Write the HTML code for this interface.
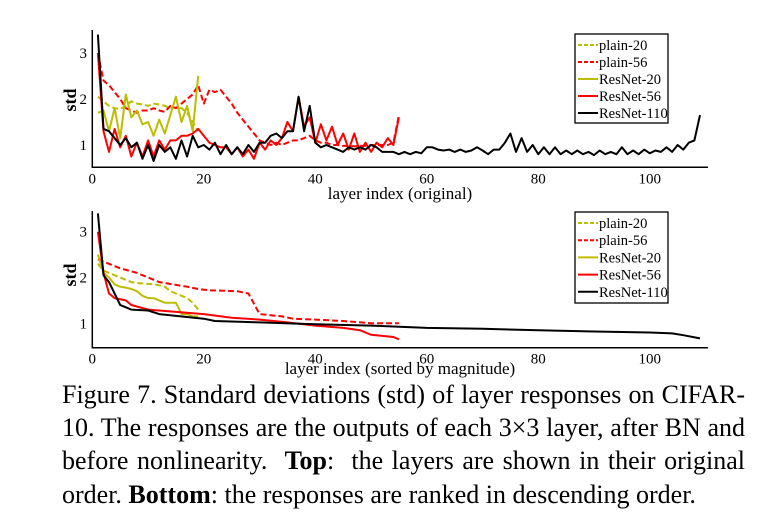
<!DOCTYPE html>
<html><head><meta charset="utf-8"><style>
body{margin:0;background:#fff;width:771px;height:531px;overflow:hidden;position:relative;font-family:"Liberation Serif",serif}
svg{position:absolute;left:0;top:0}
.cap{position:absolute;left:62px;width:683px;font-size:26px;line-height:33px;color:#000;text-align:justify;text-align-last:justify;white-space:nowrap}
</style></head><body>
<svg id="chart" width="771" height="531"></svg>
<div class="cap" style="top:378px">Figure 7. Standard deviations (std) of layer responses on CIFAR-</div>
<div class="cap" style="top:411px">10. The responses are the outputs of each 3×3 layer, after BN and</div>
<div class="cap" style="top:444px">before nonlinearity. &nbsp;<b>Top</b>: &nbsp;the layers are shown in their original</div>
<div class="cap" style="top:478px;text-align-last:left;width:auto">order. <b>Bottom</b>: the responses are ranked in descending order.</div>
<script>
// Top chart data (original order, index starting at 1)
const topPlain20=[2.05,1.95,1.85,1.8,1.78,1.85,1.95,1.9,1.88,1.85,1.9,1.88,1.85,1.8,1.82,1.8,1.7,1.5,1.3];
const topRes20=[1.7,1.75,1.3,1.8,1.15,2.1,1.6,1.75,1.45,1.5,1.2,1.55,1.25,1.65,2.05,1.5,1.85,1.3,2.5];
const topPlain56=[3.0,2.4,2.3,2.15,2.0,1.8,1.75,1.7,1.75,1.75,1.8,1.75,1.72,1.85,1.8,1.9,2.0,2.1,2.3,1.9,2.2,2.15,2.2,2.05,1.9,1.7,1.55,1.4,1.25,1.1,1.05,1.0,1.05,1.0,1.05,1.1,1.1,1.15,1.2,1.1,1.05,1.05,1.0,1.0,0.98,0.98,0.97,0.98,0.98,1.0,1.0,1.0,1.0,1.05,1.65];
const topRes56=[3.0,1.3,0.85,1.35,0.95,1.2,0.75,1.05,0.75,1.1,0.75,1.1,0.9,1.1,1.1,1.2,1.2,1.25,1.35,1.2,1.05,1.0,0.95,0.95,0.8,0.95,0.75,0.9,0.7,1.05,0.9,1.1,1.0,1.15,1.5,1.3,2.05,1.4,1.6,1.05,1.45,1.1,1.4,1.0,1.25,0.9,1.25,0.85,1.05,0.85,1.05,0.95,1.15,1.0,1.6];
const topRes110=[3.4,1.35,1.3,1.15,1.0,1.15,0.95,1.05,0.7,1.0,0.65,1.0,0.85,0.95,0.7,1.1,0.75,1.2,0.95,1.0,0.9,1.05,0.8,1.0,0.8,0.95,0.8,1.0,0.85,1.05,1.05,1.2,1.25,1.15,1.3,1.3,2.05,1.3,1.85,1.05,0.95,1.0,0.95,0.9,0.85,0.95,0.9,0.95,0.9,1.0,0.95,0.85,0.85,0.85,0.8,0.85,0.8,0.85,0.82,0.95,0.95,0.9,0.88,0.9,0.85,0.9,0.85,0.88,0.95,0.88,0.8,0.9,0.9,1.05,1.25,0.85,1.15,0.85,1.0,0.8,0.95,0.8,0.95,0.8,0.88,0.8,0.88,0.8,0.85,0.78,0.88,0.8,0.85,0.8,0.95,0.8,0.88,0.8,0.9,0.82,0.88,0.85,0.95,0.85,1.0,0.9,1.05,1.1,1.65];
// Bottom chart data (sorted)
const botPlain20=[2.3,2.15,2.1,2.05,2.0,1.95,1.9,1.88,1.87,1.86,1.85,1.83,1.8,1.7,1.65,1.6,1.55,1.45,1.3];
const botRes20=[2.5,2.1,2.0,1.85,1.8,1.78,1.75,1.7,1.6,1.55,1.55,1.5,1.45,1.45,1.45,1.2,1.2,1.15,1.15];
const botPlain56X=[1,3,5,8,10,12,17,19,21,26,28,30,34,36,40,45,50,55];
const botPlain56Y=[2.4,2.3,2.2,2.1,2.0,1.9,1.8,1.75,1.72,1.7,1.65,1.2,1.15,1.1,1.08,1.05,1.0,1.0];
const botRes56X=[1,2,3,4,6,7,10,15,20,25,30,35,40,45,48,50,54,55];
const botRes56Y=[3.0,2.1,1.65,1.55,1.5,1.4,1.3,1.25,1.2,1.12,1.08,1.02,0.95,0.9,0.85,0.75,0.7,0.65];
const botRes110X=[1,2,3,4,5,6,7,10,12,20,22,30,40,50,60,70,80,90,100,104,106,109];
const botRes110Y=[3.4,2.05,1.9,1.65,1.4,1.35,1.3,1.28,1.2,1.1,1.05,1.02,0.98,0.95,0.9,0.88,0.85,0.82,0.8,0.78,0.74,0.67];
const xTicks=[0,20,40,60,80,100];
const yTicks=[1,2,3];
const legendNames=["plain-20","plain-56","ResNet-20","ResNet-56","ResNet-110"];

const NS="http://www.w3.org/2000/svg";
const svg=document.getElementById('chart');
const YEL="#bdbd00",RED="#ff0000",BLK="#000";
const styles=[[YEL,"6,3"],[RED,"6,3"],[YEL,""],[RED,""],[BLK,""]];
function mk(tag,attrs,parent){const e=document.createElementNS(NS,tag);for(const k in attrs)e.setAttribute(k,attrs[k]);(parent||svg).appendChild(e);return e;}
function xIdx(a){return a.map((_,i)=>i+1);}

function panel(o){
  const g=mk('g',{});
  
  
  const sx=v=>92.3+v*5.575;
  const sy=v=>o.y1-(v-1)*o.k;
  const ax=mk('path',{d:`M92.3 ${o.top} V${o.base} H708`,stroke:'#000','stroke-width':1.5,fill:'none'},g);
  
  
  xTicks.forEach(t=>{
    const tx=mk('text',{x:sx(t),y:o.base+16,'font-size':15,'text-anchor':'middle','font-family':'Liberation Serif, serif'},g);
    tx.textContent=t;
    
    
  });
  yTicks.forEach(t=>{
    const tx=mk('text',{x:87,y:sy(t)+5,'font-size':15,'text-anchor':'end','font-family':'Liberation Serif, serif'},g);
    tx.textContent=t;
    
    
  });
  const yl=mk('text',{x:0,y:0,'font-size':18,'font-weight':'bold','text-anchor':'middle','font-family':'Liberation Serif, serif',transform:`translate(76 ${o.ylabY}) rotate(-90)`},g);
  yl.textContent='std';
  
  
  const xl=mk('text',{x:400,y:o.xlabY,'font-size':17,'text-anchor':'middle','font-family':'Liberation Serif, serif'},g);
  xl.textContent=o.xlab;
  
  
  o.series.forEach((s,i)=>{
    const d=s[0].map((x,j)=>(j?'L':'M')+sx(x).toFixed(1)+' '+sy(s[1][j]).toFixed(1)).join(' ');
    const p=mk('path',{d,fill:'none',stroke:styles[i][0],'stroke-width':2,'stroke-dasharray':styles[i][1],'stroke-linejoin':'round'},g);
    
    
  });
  const lg=mk('g',{},g);
  
  
  mk('rect',{x:575,y:o.legTop,width:93,height:o.legH,fill:'#fff',stroke:'#000','stroke-width':1.3},lg);
  legendNames.forEach((n,i)=>{
    const yy=o.legTop+11+i*o.legStep;
    mk('line',{x1:578,x2:598,y1:yy,y2:yy,stroke:styles[i][0],'stroke-width':2,'stroke-dasharray':styles[i][1]?'4,2':''},lg);
    const t=mk('text',{x:599,y:yy+5,'font-size':14.5,'font-family':'Liberation Serif, serif'},lg);
    t.textContent=n;
    
    
  });
}
panel({name:'top-chart',top:30,base:167.3,y1:145,k:46,ylabY:100,xlabY:199,xlab:'layer index (original)',
  legTop:34,legH:89,legStep:17,
  series:[[xIdx(topPlain20),topPlain20],[xIdx(topPlain56),topPlain56],[xIdx(topRes20),topRes20],[xIdx(topRes56),topRes56],[xIdx(topRes110),topRes110]]});
panel({name:'bottom-chart',top:211,base:347.7,y1:323.3,k:45.8,ylabY:275,xlabY:374,xlab:'layer index (sorted by magnitude)',
  legTop:212,legH:91,legStep:17.2,
  series:[[xIdx(botPlain20),botPlain20],[botPlain56X,botPlain56Y],[xIdx(botRes20),botRes20],[botRes56X,botRes56Y],[botRes110X,botRes110Y]]});
</script>
</body></html>
